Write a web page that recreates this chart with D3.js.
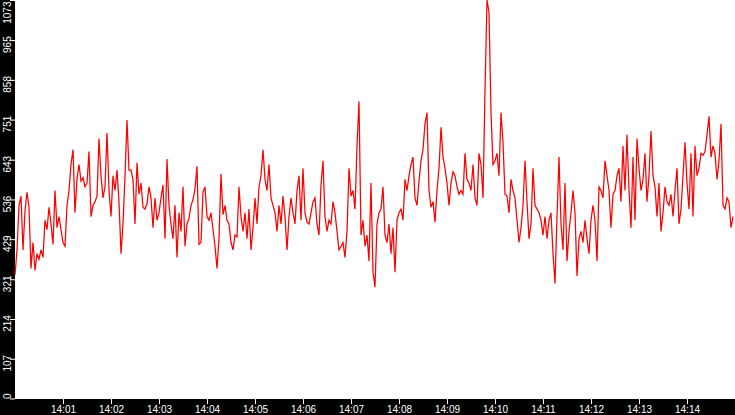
<!DOCTYPE html>
<html>
<head>
<meta charset="utf-8">
<script src="https://cdn.jsdelivr.net/npm/d3@7"></script>
<style>
  html, body { margin: 0; padding: 0; background: #000; }
  svg { display: block; }
  .axis text { font-family: "Liberation Sans", Arial, sans-serif; font-size: 10px; fill: #fff; }
  .axis line { stroke: #fff; }
  .axis path { display: none; }
</style>
</head>
<body>
<div id="chart"></div>
<script>
// one sample every 2.5 s starting at 14:00:00
const startTime = "14:00:00";
const endTime = "14:15:00";
const sampleSeconds = 2.5;

const values = [
  // 14:00:00 - 14:02:05
  333, 400, 520, 545, 400, 505, 555, 515, 350, 420, 345, 390, 375, 400, 380, 480, 455, 515, 470, 415,
  560, 460, 490, 455, 420, 410, 520, 560, 630, 670, 500, 590, 630, 585, 595, 570, 580, 665, 490, 520,
  530, 545, 700, 600, 540, 570, 715, 560, 490, 600,
  // 14:02:05 - 14:04:10
  560, 615, 530, 390, 470, 600, 750, 615, 615, 590, 470, 635, 550, 580, 515, 510, 525, 570, 540, 460,
  540, 480, 500, 540, 575, 430, 645, 520, 470, 430, 520, 380, 500, 450, 570, 410, 470, 485, 520, 535,
  565, 625, 415, 420, 555, 570, 490, 480, 500, 455,
  // 14:04:10 - 14:06:15
  410, 350, 430, 605, 495, 520, 480, 470, 420, 400, 440, 435, 570, 490, 450, 500, 430, 510, 400, 460,
  540, 470, 570, 600, 670, 590, 560, 630, 540, 520, 500, 450, 520, 470, 545, 490, 400, 490, 540, 500,
  470, 560, 600, 480, 620, 500, 475, 470, 500, 530,
  // 14:06:15 - 14:08:20
  540, 470, 440, 575, 640, 490, 450, 480, 470, 530, 500, 450, 400, 410, 420, 380, 450, 620, 545, 560,
  510, 680, 800, 440, 480, 410, 440, 370, 580, 340, 300, 470, 500, 510, 570, 440, 420, 470, 390, 460,
  340, 480, 500, 510, 480, 590, 560, 600, 630, 650,
  // 14:08:20 - 14:10:25
  540, 520, 585, 640, 670, 740, 770, 560, 515, 530, 475, 560, 620, 730, 650, 620, 580, 520, 580, 610,
  600, 570, 550, 560, 550, 660, 590, 580, 560, 630, 540, 520, 660, 630, 540, 830, 1073, 1040, 770, 630,
  640, 660, 600, 770, 690, 550, 545, 500, 590, 560,
  // 14:10:25 - 14:12:30
  540, 480, 420, 460, 520, 640, 530, 430, 470, 620, 520, 510, 500, 480, 440, 490, 430, 480, 500, 390,
  310, 490, 650, 470, 400, 580, 370, 450, 500, 560, 500, 330, 430, 450, 420, 480, 430, 390, 480, 520,
  480, 370, 570, 560, 540, 640, 600, 560, 460, 550,
  // 14:12:30 - 14:15:00
  560, 600, 620, 530, 680, 560, 710, 560, 460, 650, 480, 700, 620, 560, 590, 660, 530, 600, 720, 600,
  570, 490, 580, 450, 500, 570, 530, 520, 550, 490, 560, 620, 470, 510, 600, 690, 580, 510, 660, 490,
  680, 600, 620, 660, 655, 665, 710, 760, 650, 680, 660, 590, 640, 740, 520, 510, 540, 530, 460, 490
];

const xTickLabels = ["14:01", "14:02", "14:03", "14:04", "14:05", "14:06", "14:07",
                     "14:08", "14:09", "14:10", "14:11", "14:12", "14:13", "14:14"];
const yTickLabels = ["0", "107", "214", "321", "429", "536", "643", "751", "858", "965", "1073"];
const yMax = 1073;

const svgWidth = 735;
const svgHeight = 415;
const margin = { top: 0, right: 0, bottom: 16, left: 15 };
const width = svgWidth - margin.left - margin.right;
const height = svgHeight - margin.top - margin.bottom;

const parseTime = d3.timeParse("%H:%M:%S");
const parseTick = d3.timeParse("%H:%M");
const t0 = parseTime(startTime);

const series = values.map((v, i) => ({
  time: new Date(t0.getTime() + i * sampleSeconds * 1000),
  value: v
}));

const svg = d3.select("#chart")
  .append("svg")
  .attr("width", svgWidth)
  .attr("height", svgHeight);

svg.append("rect")
  .attr("width", svgWidth)
  .attr("height", svgHeight)
  .attr("fill", "#000");

const g = svg.append("g")
  .attr("transform", `translate(${margin.left},${margin.top})`);

g.append("rect")
  .attr("width", width)
  .attr("height", height)
  .attr("fill", "#fff");

const xScale = d3.scaleTime()
  .domain([t0, parseTime(endTime)])
  .range([0, width]);

const yScale = d3.scaleLinear()
  .domain([0, yMax])
  .range([height - 0.5, 0]);

const line = d3.line()
  .x(d => xScale(d.time))
  .y(d => yScale(d.value));

g.append("path")
  .datum(series)
  .attr("fill", "none")
  .attr("stroke", "#ff0000")
  .attr("stroke-width", 1.25)
  .attr("stroke-linejoin", "miter")
  .attr("d", line);

// x axis
const xAxis = d3.axisBottom(xScale)
  .tickValues(xTickLabels.map(parseTick))
  .tickFormat(d3.timeFormat("%H:%M"))
  .tickSize(5)
  .tickPadding(2);

g.append("g")
  .attr("class", "axis x-axis")
  .attr("transform", `translate(0,${height})`)
  .call(xAxis)
  .selectAll("text")
  .attr("dy", "0.71em");

// y axis, labels rotated and roughly centred a little below the tick
const yTicks = yTickLabels.map(Number);
const last = yTicks.length - 1;
const yAxis = d3.axisLeft(yScale)
  .tickValues(yTicks)
  .tickFormat((d, i) => yTickLabels[i])
  .tickSize(5);

const yg = g.append("g")
  .attr("class", "axis y-axis")
  .call(yAxis);

yg.selectAll("text")
  .attr("transform", "rotate(-90)")
  .attr("x", (d, i) => i === 0 ? 0 : i === last ? -1 : -4)
  .attr("y", -4.5)
  .attr("dy", 0)
  .attr("text-anchor", (d, i) => i === 0 ? "start" : i === last ? "end" : "middle");
</script>
</body>
</html>
